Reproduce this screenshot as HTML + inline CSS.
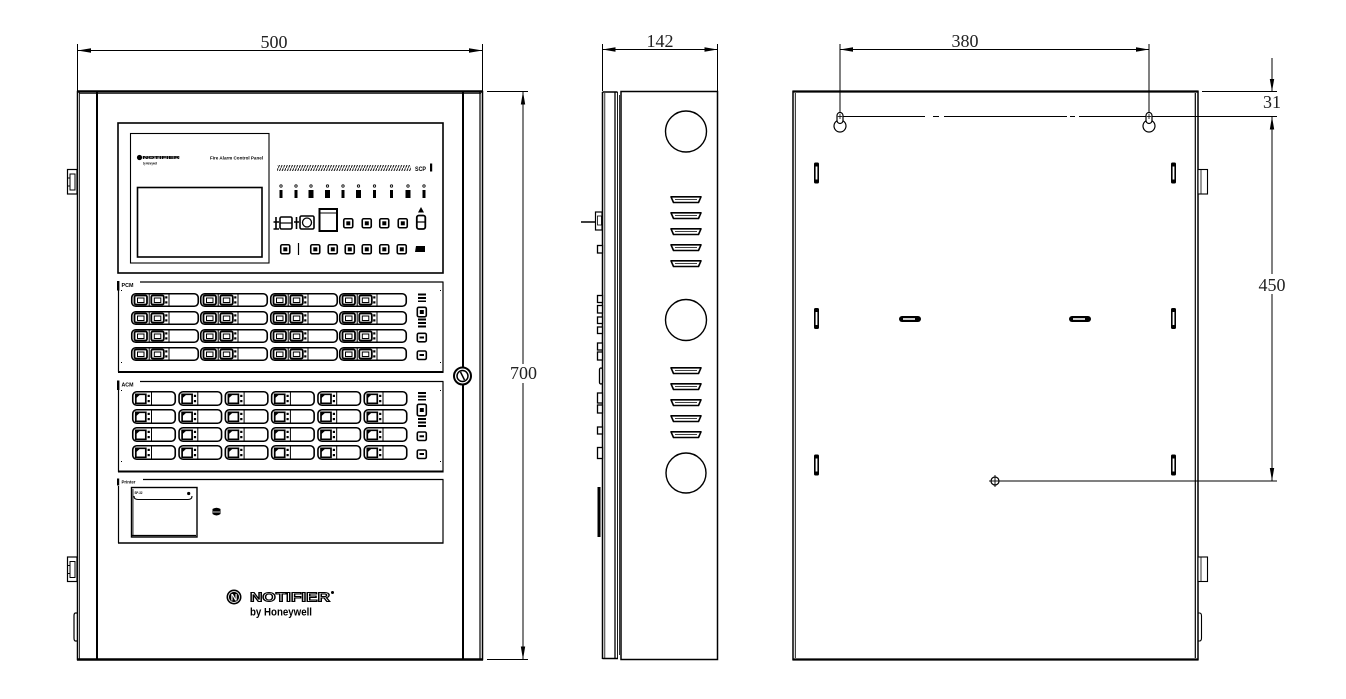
<!DOCTYPE html>
<html><head><meta charset="utf-8">
<style>
html,body{margin:0;padding:0;background:#fff;}
svg{display:block;}
.dim{font-family:"Liberation Serif",serif;font-size:18px;fill:#222;}
.tb{font-family:"Liberation Sans",sans-serif;font-weight:bold;fill:#000;}
</style></head>
<body>
<svg width="1346" height="699" viewBox="0 0 1346 699" xmlns="http://www.w3.org/2000/svg">
<defs>
 <pattern id="hatch" width="2.6" height="6" patternUnits="userSpaceOnUse">
  <path d="M0,6 L2.6,0" stroke="#000" stroke-width="0.9"/>
 </pattern>
 <g id="pcm">
  <rect x="0.75" y="0.75" width="66.5" height="12.5" rx="4" fill="none" stroke="#000" stroke-width="1.6"/>
  <rect x="3.5" y="2.5" width="12.5" height="9" rx="1.5" fill="none" stroke="#000" stroke-width="1.8"/>
  <rect x="6.5" y="5" width="6.5" height="4.5" fill="none" stroke="#000" stroke-width="1"/>
  <line x1="18.2" y1="1" x2="18.2" y2="13" stroke="#000" stroke-width="1"/>
  <rect x="20.3" y="2.5" width="12.5" height="9" rx="1.5" fill="none" stroke="#000" stroke-width="1.8"/>
  <rect x="23.3" y="5" width="6.5" height="4.5" fill="none" stroke="#000" stroke-width="1"/>
  <rect x="34.2" y="3.3" width="2.2" height="2.2" fill="#000"/>
  <rect x="34.2" y="8.3" width="2.2" height="2.2" fill="#000"/>
  <line x1="38" y1="1" x2="38" y2="13" stroke="#000" stroke-width="1"/>
 </g>
 <g id="acm">
  <rect x="0.75" y="0.75" width="42.5" height="13.5" rx="4" fill="none" stroke="#000" stroke-width="1.6"/>
  <path d="M3.8,12.3 L3.8,3.3 L13.8,3.3 L13.8,12.3 Z" fill="none" stroke="#000" stroke-width="1.7"/>
  <path d="M3.8,3.3 L8.5,3.3 L3.8,7.5 Z" fill="#000"/>
  <rect x="15.6" y="3.8" width="2.2" height="2.2" fill="#000"/>
  <rect x="15.6" y="9" width="2.2" height="2.2" fill="#000"/>
  <line x1="19.5" y1="1" x2="19.5" y2="14" stroke="#000" stroke-width="1"/>
 </g>
 <g id="sbtn">
  <rect x="0.75" y="0.75" width="9" height="9" rx="1.5" fill="none" stroke="#000" stroke-width="1.6"/>
  <rect x="3.3" y="3.3" width="4" height="4" fill="#000"/>
 </g>
 <g id="vent">
  <path d="M0,0.8 L30,0.8 L27.5,6.5 L2.5,6.5 Z" fill="none" stroke="#000" stroke-width="1.6" stroke-linejoin="round"/>
  <line x1="4" y1="3.5" x2="26" y2="3.5" stroke="#000" stroke-width="0.8"/>
 </g>
 <g id="vslot">
  <rect x="0" y="0" width="5" height="21" rx="1.5" fill="#000"/>
  <rect x="1.6" y="4" width="1.8" height="13" fill="#fff"/>
 </g>
 <g id="hslot">
  <rect x="0" y="0" width="22" height="6" rx="3" fill="#000"/>
  <rect x="4" y="2.2" width="12" height="1.6" fill="#fff"/>
 </g>
</defs>

<!-- ================= FRONT VIEW ================= -->
<!-- dimension 500 -->
<line x1="77.5" y1="44" x2="77.5" y2="91" stroke="#000" stroke-width="1"/>
<line x1="482.5" y1="44" x2="482.5" y2="91" stroke="#000" stroke-width="1"/>
<line x1="77.5" y1="50.5" x2="482.5" y2="50.5" stroke="#000" stroke-width="1"/>
<polygon points="77.5,50.5 91,48.3 91,52.7" fill="#000"/>
<polygon points="482.5,50.5 469,48.3 469,52.7" fill="#000"/>
<text class="dim" x="274" y="48" text-anchor="middle">500</text>

<!-- dimension 700 -->
<line x1="487" y1="91.5" x2="528" y2="91.5" stroke="#000" stroke-width="1"/>
<line x1="487" y1="659.5" x2="528" y2="659.5" stroke="#000" stroke-width="1"/>
<line x1="523" y1="91.5" x2="523" y2="364" stroke="#000" stroke-width="1"/>
<line x1="523" y1="383" x2="523" y2="659.5" stroke="#000" stroke-width="1"/>
<polygon points="523,91.5 520.8,104.5 525.2,104.5" fill="#000"/>
<polygon points="523,659.5 520.8,646.5 525.2,646.5" fill="#000"/>
<text class="dim" x="523.5" y="379" text-anchor="middle">700</text>

<!-- cabinet outline -->
<rect x="77.5" y="91.5" width="405" height="568" fill="none" stroke="#000" stroke-width="1.5"/>
<line x1="77" y1="91.5" x2="483" y2="91.5" stroke="#000" stroke-width="2.5"/>
<line x1="79" y1="93.5" x2="481" y2="93.5" stroke="#000" stroke-width="0.8"/>
<line x1="77" y1="659.5" x2="483" y2="659.5" stroke="#000" stroke-width="2.5"/>
<line x1="79.5" y1="92" x2="79.5" y2="659" stroke="#000" stroke-width="0.8"/>
<line x1="97" y1="92" x2="97" y2="659" stroke="#000" stroke-width="2"/>
<line x1="463" y1="92" x2="463" y2="659" stroke="#000" stroke-width="2"/>
<line x1="480" y1="92" x2="480" y2="659" stroke="#000" stroke-width="1.2"/>

<!-- left hinges -->
<rect x="67.5" y="169.5" width="9.5" height="24.5" fill="#fff" stroke="#000" stroke-width="1.2"/>
<rect x="70" y="174" width="5" height="16" fill="none" stroke="#000" stroke-width="1"/>
<line x1="67.5" y1="178" x2="70" y2="178" stroke="#000" stroke-width="1"/>
<line x1="67.5" y1="186" x2="70" y2="186" stroke="#000" stroke-width="1"/>
<rect x="67.5" y="557" width="9.5" height="24.5" fill="#fff" stroke="#000" stroke-width="1.2"/>
<rect x="70" y="561.5" width="5" height="16" fill="none" stroke="#000" stroke-width="1"/>
<line x1="67.5" y1="565.5" x2="70" y2="565.5" stroke="#000" stroke-width="1"/>
<line x1="67.5" y1="573.5" x2="70" y2="573.5" stroke="#000" stroke-width="1"/>
<path d="M77,613 L75.5,613 Q74,613 74,616 L74,638 Q74,641 75.5,641 L77,641" fill="none" stroke="#000" stroke-width="1.2"/>

<!-- lock -->
<circle cx="462.5" cy="376" r="8.5" fill="#fff" stroke="#000" stroke-width="2"/>
<circle cx="462.5" cy="376" r="5.5" fill="none" stroke="#000" stroke-width="1.5"/>
<line x1="460.5" y1="372" x2="464.5" y2="380" stroke="#000" stroke-width="1.5"/>

<!-- control panel box -->
<rect x="118" y="123" width="325" height="150" fill="none" stroke="#000" stroke-width="1.6"/>
<rect x="130.5" y="133.5" width="138.5" height="129.5" fill="none" stroke="#000" stroke-width="1.1"/>
<rect x="137.5" y="187.5" width="124.5" height="69.5" fill="none" stroke="#000" stroke-width="1.6"/>
<circle cx="139.5" cy="157.5" r="2.6" fill="#000"/>
<text class="tb" x="142.5" y="159" font-size="4.5" textLength="37" lengthAdjust="spacingAndGlyphs">NOTIFIER</text>
<rect x="142.5" y="156" width="37" height="2.6" fill="#000" opacity="0.55"/>
<text class="tb" x="143" y="164.5" font-size="4" textLength="14" lengthAdjust="spacingAndGlyphs">by Honeywell</text>
<text class="tb" x="210" y="159.5" font-size="4.5" textLength="53" lengthAdjust="spacingAndGlyphs">Fire Alarm Control Panel</text>

<!-- hatched bar & SCP -->
<rect x="277" y="165" width="134" height="6" fill="url(#hatch)"/>
<text class="tb" x="415" y="171" font-size="6" textLength="11" lengthAdjust="spacingAndGlyphs">SCP</text>
<rect x="430" y="163.5" width="2.2" height="8" fill="#000"/>

<!-- LED row -->
<g stroke="#000" stroke-width="0.8" fill="none">
 <circle cx="281" cy="186" r="1.2"/><circle cx="296" cy="186" r="1.2"/><circle cx="311" cy="186" r="1.2"/>
 <circle cx="327.5" cy="186" r="1.2"/><circle cx="343" cy="186" r="1.2"/><circle cx="358.5" cy="186" r="1.2"/>
 <circle cx="374.5" cy="186" r="1.2"/><circle cx="391.5" cy="186" r="1.2"/><circle cx="408" cy="186" r="1.2"/>
 <circle cx="424" cy="186" r="1.2"/>
</g>
<g fill="#000">
 <rect x="279.5" y="190" width="3" height="8"/><rect x="294.5" y="190" width="3" height="8"/>
 <rect x="308.5" y="190" width="5" height="8"/><rect x="325" y="190" width="5" height="8"/>
 <rect x="341.5" y="190" width="3" height="8"/><rect x="356" y="190" width="5" height="8"/>
 <rect x="373" y="190" width="3" height="8"/><rect x="390" y="190" width="3" height="8"/>
 <rect x="405.5" y="190" width="5" height="8"/><rect x="422.5" y="190" width="3" height="8"/>
</g>

<!-- button row 1 -->
<g stroke="#000" fill="none" stroke-width="1.6">
 <path d="M273.5,222 L279,222 M276,217 L276,229 M273.5,229 L279,229"/>
 <rect x="280" y="217" width="12" height="12" rx="1.5"/>
 <line x1="280" y1="223" x2="292" y2="223" stroke-width="1.2"/>
 <path d="M294,222 L299,222 M296.5,217 L296.5,229"/>
 <rect x="300" y="216" width="14" height="13" rx="1.5"/>
 <circle cx="307" cy="222.5" r="4.5" stroke-width="1.3"/>
 <rect x="319.5" y="209" width="17.5" height="22" stroke-width="2"/>
 <line x1="320" y1="213" x2="337" y2="213" stroke-width="1"/>
</g>
<use href="#sbtn" x="343" y="218"/>
<use href="#sbtn" x="361.5" y="218"/>
<use href="#sbtn" x="379" y="218"/>
<use href="#sbtn" x="397.5" y="218"/>
<polygon points="421,207 418,212.5 424,212.5" fill="#000"/>
<rect x="416.8" y="215.5" width="8.5" height="13.5" rx="2" fill="none" stroke="#000" stroke-width="1.8"/>
<line x1="417" y1="222" x2="425" y2="222" stroke="#000" stroke-width="1.2"/>

<!-- button row 2 -->
<use href="#sbtn" x="280" y="244"/>
<line x1="298.5" y1="243" x2="298.5" y2="255" stroke="#000" stroke-width="1.2"/>
<use href="#sbtn" x="310" y="244"/>
<use href="#sbtn" x="327.5" y="244"/>
<use href="#sbtn" x="344.5" y="244"/>
<use href="#sbtn" x="361.5" y="244"/>
<use href="#sbtn" x="379" y="244"/>
<use href="#sbtn" x="396.5" y="244"/>
<path d="M416,246 L425,246 L425,252 L415,252 Z" fill="#000"/>

<!-- PCM box -->
<rect x="117" y="281" width="2.4" height="9.5" fill="#000"/>
<text class="tb" x="121.5" y="287" font-size="5" textLength="12" lengthAdjust="spacingAndGlyphs">PCM</text>
<line x1="140" y1="282" x2="443.5" y2="282" stroke="#000" stroke-width="1.2"/>
<line x1="118.5" y1="290" x2="118.5" y2="372" stroke="#000" stroke-width="1.2"/>
<line x1="443" y1="282" x2="443" y2="372.5" stroke="#000" stroke-width="1.2"/>
<line x1="118" y1="372" x2="443.5" y2="372" stroke="#000" stroke-width="2"/>
<g fill="#000">
 <rect x="121" y="290" width="1" height="1"/><rect x="440" y="290" width="1" height="1"/>
 <rect x="121" y="362" width="1" height="1"/><rect x="440" y="362" width="1" height="1"/>
</g>
<use href="#pcm" x="131" y="293"/><use href="#pcm" x="200" y="293"/><use href="#pcm" x="270" y="293"/><use href="#pcm" x="339" y="293"/>
<use href="#pcm" x="131" y="311"/><use href="#pcm" x="200" y="311"/><use href="#pcm" x="270" y="311"/><use href="#pcm" x="339" y="311"/>
<use href="#pcm" x="131" y="329"/><use href="#pcm" x="200" y="329"/><use href="#pcm" x="270" y="329"/><use href="#pcm" x="339" y="329"/>
<use href="#pcm" x="131" y="347"/><use href="#pcm" x="200" y="347"/><use href="#pcm" x="270" y="347"/><use href="#pcm" x="339" y="347"/>
<!-- PCM right controls -->
<g fill="#000">
 <rect x="418" y="293.5" width="8" height="2"/><rect x="418" y="297" width="8" height="2"/><rect x="418" y="300.5" width="8" height="1.5"/>
 <rect x="418" y="318.5" width="8" height="2"/><rect x="418" y="322" width="8" height="2"/><rect x="418" y="325.5" width="8" height="2"/>
</g>
<g fill="none" stroke="#000" stroke-width="1.6">
 <rect x="417.3" y="307.3" width="9" height="9.5" rx="1.5"/>
 <rect x="417.3" y="333.3" width="9" height="8.5" rx="1.5"/>
 <rect x="417.3" y="351" width="9" height="8.5" rx="1.5"/>
</g>
<rect x="419.8" y="310" width="4" height="4" fill="#000"/>
<rect x="419.5" y="336.5" width="4.5" height="2" fill="#000"/>
<rect x="419.5" y="354" width="4.5" height="2" fill="#000"/>

<!-- ACM box -->
<rect x="117" y="380.5" width="2.4" height="9.5" fill="#000"/>
<text class="tb" x="121.5" y="386.5" font-size="5" textLength="12" lengthAdjust="spacingAndGlyphs">ACM</text>
<line x1="140" y1="381.5" x2="443.5" y2="381.5" stroke="#000" stroke-width="1.2"/>
<line x1="118.5" y1="390" x2="118.5" y2="472" stroke="#000" stroke-width="1.2"/>
<line x1="443" y1="381.5" x2="443" y2="472.5" stroke="#000" stroke-width="1.2"/>
<line x1="118" y1="471.5" x2="443.5" y2="471.5" stroke="#000" stroke-width="2"/>
<g fill="#000">
 <rect x="121" y="390" width="1" height="1"/><rect x="440" y="390" width="1" height="1"/>
 <rect x="121" y="461" width="1" height="1"/><rect x="440" y="461" width="1" height="1"/>
</g>
<use href="#acm" x="132" y="391"/><use href="#acm" x="178.3" y="391"/><use href="#acm" x="224.6" y="391"/><use href="#acm" x="270.9" y="391"/><use href="#acm" x="317.2" y="391"/><use href="#acm" x="363.5" y="391"/>
<use href="#acm" x="132" y="409"/><use href="#acm" x="178.3" y="409"/><use href="#acm" x="224.6" y="409"/><use href="#acm" x="270.9" y="409"/><use href="#acm" x="317.2" y="409"/><use href="#acm" x="363.5" y="409"/>
<use href="#acm" x="132" y="427"/><use href="#acm" x="178.3" y="427"/><use href="#acm" x="224.6" y="427"/><use href="#acm" x="270.9" y="427"/><use href="#acm" x="317.2" y="427"/><use href="#acm" x="363.5" y="427"/>
<use href="#acm" x="132" y="445"/><use href="#acm" x="178.3" y="445"/><use href="#acm" x="224.6" y="445"/><use href="#acm" x="270.9" y="445"/><use href="#acm" x="317.2" y="445"/><use href="#acm" x="363.5" y="445"/>
<g fill="#000">
 <rect x="418" y="392" width="8" height="2"/><rect x="418" y="395.5" width="8" height="2"/><rect x="418" y="399" width="8" height="1.5"/>
 <rect x="418" y="418" width="8" height="2"/><rect x="418" y="421.5" width="8" height="2"/><rect x="418" y="425" width="8" height="2"/>
</g>
<g fill="none" stroke="#000" stroke-width="1.6">
 <rect x="417.3" y="404.3" width="9" height="11.5" rx="1.5"/>
 <rect x="417.3" y="432" width="9" height="8.5" rx="1.5"/>
 <rect x="417.3" y="450" width="9" height="8.5" rx="1.5"/>
</g>
<rect x="419.8" y="408" width="4" height="4" fill="#000"/>
<rect x="419.5" y="435.3" width="4.5" height="2" fill="#000"/>
<rect x="419.5" y="453" width="4.5" height="2" fill="#000"/>

<!-- Printer box -->
<rect x="117" y="478.5" width="2.2" height="7" fill="#000"/>
<text class="tb" x="121.5" y="483.5" font-size="4.5" textLength="14" lengthAdjust="spacingAndGlyphs">Printer</text>
<line x1="143" y1="479.5" x2="443.5" y2="479.5" stroke="#000" stroke-width="1.2"/>
<line x1="118.5" y1="486" x2="118.5" y2="543" stroke="#000" stroke-width="1.2"/>
<line x1="443" y1="479.5" x2="443" y2="543.5" stroke="#000" stroke-width="1.2"/>
<line x1="118" y1="543" x2="443.5" y2="543" stroke="#000" stroke-width="1.6"/>
<rect x="131.5" y="487.5" width="65.5" height="49.5" fill="none" stroke="#000" stroke-width="1.4"/>
<line x1="133" y1="489" x2="133" y2="536" stroke="#000" stroke-width="0.8"/>
<line x1="132" y1="535.5" x2="196" y2="535.5" stroke="#000" stroke-width="1.2"/>
<text class="tb" x="134.5" y="494" font-size="3.5" textLength="8" lengthAdjust="spacingAndGlyphs">SP-32</text>
<circle cx="188.7" cy="493.5" r="1.6" fill="#000"/>
<path d="M134,496 Q134,499.5 138,499.5 L188,499.5 Q192,499.5 192,496" fill="none" stroke="#000" stroke-width="1.1"/>
<path d="M212.5,509 Q216.5,506.5 220.5,509 L220.5,514 Q216.5,517 212.5,514 Z" fill="#000"/>
<line x1="213" y1="512" x2="220" y2="512" stroke="#fff" stroke-width="0.8"/>

<!-- Notifier logo -->
<circle cx="234" cy="597" r="7.5" fill="#000"/>
<circle cx="234" cy="597" r="5.5" fill="none" stroke="#fff" stroke-width="0.8"/>
<text x="234" y="600.5" text-anchor="middle" font-family="Liberation Sans,sans-serif" font-weight="bold" font-size="9" fill="#fff">N</text>
<text x="250" y="601.5" font-family="Liberation Sans,sans-serif" font-weight="bold" font-size="12.5" fill="#fff" stroke="#000" stroke-width="1.1" textLength="80" lengthAdjust="spacingAndGlyphs">NOTIFIER</text>
<circle cx="332.5" cy="592.5" r="1.5" fill="#000"/>
<text x="250" y="615.5" font-family="Liberation Sans,sans-serif" font-weight="bold" font-size="11" fill="#000" textLength="62" lengthAdjust="spacingAndGlyphs">by Honeywell</text>

<!-- ================= SIDE VIEW ================= -->
<line x1="602.5" y1="44" x2="602.5" y2="91" stroke="#000" stroke-width="1"/>
<line x1="717.5" y1="44" x2="717.5" y2="91" stroke="#000" stroke-width="1"/>
<line x1="602.5" y1="49.5" x2="717.5" y2="49.5" stroke="#000" stroke-width="1"/>
<polygon points="602.5,49.5 615.5,47.3 615.5,51.7" fill="#000"/>
<polygon points="717.5,49.5 704.5,47.3 704.5,51.7" fill="#000"/>
<text class="dim" x="660" y="47" text-anchor="middle">142</text>

<!-- door section -->
<line x1="602.5" y1="92" x2="617.5" y2="92" stroke="#000" stroke-width="1.5"/>
<line x1="602.5" y1="92" x2="602.5" y2="659" stroke="#000" stroke-width="1.5"/>
<line x1="604.8" y1="93" x2="604.8" y2="658" stroke="#000" stroke-width="0.8"/>
<line x1="615" y1="92" x2="615" y2="658" stroke="#000" stroke-width="1.3"/>
<line x1="617.5" y1="92" x2="617.5" y2="658" stroke="#000" stroke-width="0.9"/>
<line x1="602.5" y1="658.5" x2="618" y2="658.5" stroke="#000" stroke-width="1.5"/>
<!-- body -->
<rect x="621" y="91.5" width="96.5" height="568" fill="none" stroke="#000" stroke-width="1.5"/>
<line x1="619.5" y1="95" x2="619.5" y2="655" stroke="#000" stroke-width="0.8"/>
<!-- knockouts -->
<circle cx="686" cy="131.5" r="20.5" fill="none" stroke="#000" stroke-width="1.4"/>
<circle cx="686" cy="320" r="20.5" fill="none" stroke="#000" stroke-width="1.4"/>
<circle cx="686" cy="473" r="20" fill="none" stroke="#000" stroke-width="1.4"/>
<!-- vents -->
<use href="#vent" x="671" y="196"/><use href="#vent" x="671" y="212"/><use href="#vent" x="671" y="228"/><use href="#vent" x="671" y="244"/><use href="#vent" x="671" y="260"/>
<use href="#vent" x="671" y="367"/><use href="#vent" x="671" y="383"/><use href="#vent" x="671" y="399"/><use href="#vent" x="671" y="415"/><use href="#vent" x="671" y="431"/>
<!-- handle & side details -->
<line x1="581" y1="222" x2="596" y2="222" stroke="#000" stroke-width="1.5"/>
<rect x="595.5" y="212" width="6.5" height="18" fill="#fff" stroke="#000" stroke-width="1.2"/>
<rect x="597.5" y="216" width="4" height="9" fill="none" stroke="#000" stroke-width="0.8"/>
<g fill="#fff" stroke="#000" stroke-width="1.3">
 <rect x="597.5" y="245.5" width="5" height="7.5"/>
 <rect x="597.5" y="295.5" width="5" height="7"/>
 <rect x="597.5" y="305.5" width="5" height="7.5"/>
 <rect x="597.5" y="317" width="5" height="6.5"/>
 <rect x="597.5" y="327" width="5" height="6.5"/>
 <rect x="597.5" y="343" width="5" height="7"/>
 <rect x="597.5" y="352" width="5" height="8"/>
 <rect x="599.5" y="368" width="3" height="16" rx="1.5"/>
 <rect x="597.5" y="393" width="5" height="10"/>
 <rect x="597.5" y="405" width="5" height="8"/>
 <rect x="597.5" y="427" width="5" height="7"/>
 <rect x="597.5" y="447.5" width="5" height="11"/>
</g>
<rect x="597.5" y="487" width="3" height="50" fill="#000"/>

<!-- ================= BACK VIEW ================= -->
<!-- dimension 380 -->
<line x1="840" y1="44" x2="840" y2="116" stroke="#000" stroke-width="1"/>
<line x1="1149" y1="44" x2="1149" y2="116" stroke="#000" stroke-width="1"/>
<line x1="840" y1="49.5" x2="1149" y2="49.5" stroke="#000" stroke-width="1"/>
<polygon points="840,49.5 853,47.3 853,51.7" fill="#000"/>
<polygon points="1149,49.5 1136,47.3 1136,51.7" fill="#000"/>
<text class="dim" x="965" y="47" text-anchor="middle">380</text>

<!-- outline -->
<rect x="793" y="91.5" width="405" height="568" fill="none" stroke="#000" stroke-width="1.5"/>
<line x1="792.5" y1="91.5" x2="1198.5" y2="91.5" stroke="#000" stroke-width="2.2"/>
<line x1="792.5" y1="659.5" x2="1198.5" y2="659.5" stroke="#000" stroke-width="2.2"/>
<line x1="795.3" y1="93" x2="795.3" y2="658" stroke="#000" stroke-width="0.9"/>
<line x1="1195.3" y1="93" x2="1195.3" y2="658" stroke="#000" stroke-width="1.2"/>

<!-- center line -->
<g stroke="#000" stroke-width="1">
 <line x1="840" y1="116.5" x2="925" y2="116.5"/>
 <line x1="933" y1="116.5" x2="939" y2="116.5"/>
 <line x1="944" y1="116.5" x2="1067" y2="116.5"/>
 <line x1="1070" y1="116.5" x2="1075" y2="116.5"/>
 <line x1="1079" y1="116.5" x2="1277" y2="116.5"/>
</g>
<!-- keyholes -->
<g fill="#fff" stroke="#000" stroke-width="1.2">
 <circle cx="840" cy="126" r="6"/>
 <rect x="837" y="112.5" width="6" height="11" rx="3"/>
 <circle cx="1149" cy="126" r="6"/>
 <rect x="1146" y="112.5" width="6" height="11" rx="3"/>
</g>
<g stroke="#000" stroke-width="0.8">
 <line x1="840" y1="114" x2="840" y2="119"/><line x1="837.8" y1="116.5" x2="842.2" y2="116.5"/>
 <line x1="1149" y1="114" x2="1149" y2="119"/><line x1="1146.8" y1="116.5" x2="1151.2" y2="116.5"/>
</g>

<!-- slots -->
<use href="#vslot" x="814" y="162.5"/>
<use href="#vslot" x="1171" y="162.5"/>
<use href="#vslot" x="814" y="308"/>
<use href="#vslot" x="1171" y="308"/>
<use href="#vslot" x="814" y="454.5"/>
<use href="#vslot" x="1171" y="454.5"/>
<use href="#hslot" x="899" y="316"/>
<use href="#hslot" x="1069" y="316"/>

<!-- right tabs -->
<rect x="1198" y="169.5" width="9.5" height="24.5" fill="#fff" stroke="#000" stroke-width="1.1"/>
<line x1="1201" y1="170" x2="1201" y2="194" stroke="#000" stroke-width="0.8"/>
<rect x="1198" y="557" width="9.5" height="24.5" fill="#fff" stroke="#000" stroke-width="1.1"/>
<line x1="1201" y1="557" x2="1201" y2="581" stroke="#000" stroke-width="0.8"/>
<path d="M1198,613 L1199.5,613 Q1201.5,613 1201.5,616 L1201.5,638 Q1201.5,641 1199.5,641 L1198,641" fill="none" stroke="#000" stroke-width="1.1"/>

<!-- datum marker -->
<circle cx="995" cy="481" r="4" fill="#fff" stroke="#000" stroke-width="1.2"/>
<line x1="995" y1="475" x2="995" y2="487" stroke="#000" stroke-width="0.9"/>
<line x1="989" y1="481" x2="1001" y2="481" stroke="#000" stroke-width="0.9"/>
<line x1="999" y1="481" x2="1277" y2="481" stroke="#000" stroke-width="1"/>

<!-- dimension 31 / 450 -->
<line x1="1202" y1="91.5" x2="1277" y2="91.5" stroke="#000" stroke-width="1"/>
<line x1="1272" y1="58" x2="1272" y2="91.5" stroke="#000" stroke-width="1"/>
<polygon points="1272,91.5 1269.8,79 1274.2,79" fill="#000"/>
<text class="dim" x="1272" y="108" text-anchor="middle">31</text>
<line x1="1272" y1="116.5" x2="1272" y2="274" stroke="#000" stroke-width="1"/>
<line x1="1272" y1="294" x2="1272" y2="481" stroke="#000" stroke-width="1"/>
<polygon points="1272,116.5 1269.8,129.5 1274.2,129.5" fill="#000"/>
<polygon points="1272,481 1269.8,468 1274.2,468" fill="#000"/>
<text class="dim" x="1272" y="291" text-anchor="middle">450</text>
</svg>
</body></html>
